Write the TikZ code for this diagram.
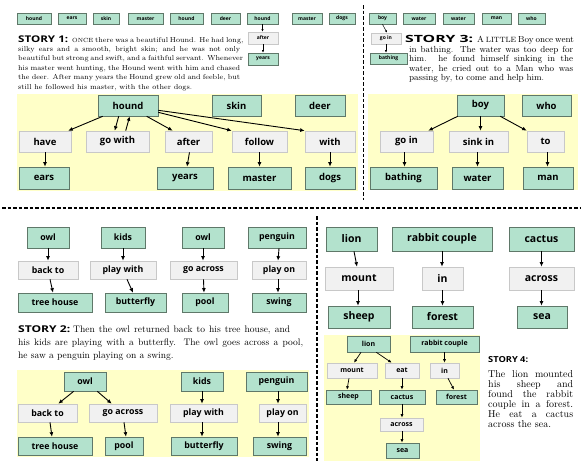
\documentclass[tikz,border=0pt]{standalone}
\usepackage{fontspec}
\usepackage{graphicx}
\newfontfamily\nfont{Open Sans}
\usetikzlibrary{arrows.meta}
\definecolor{gfill}{RGB}{179,226,205}
\definecolor{gdraw}{RGB}{95,120,105}
\definecolor{wfill}{RGB}{241,241,241}
\definecolor{wdraw}{RGB}{200,200,200}
\definecolor{yfill}{RGB}{255,255,200}
\tikzset{
  gbox/.style={draw=gdraw, fill=gfill, line width=0.6pt, inner sep=0pt},
  wbox/.style={draw=wdraw, fill=wfill, line width=0.6pt, inner sep=0pt},
  ft/.style={font=\nfont\bfseries\fontsize{5}{6}\selectfont},
  fa/.style={font=\nfont\bfseries\fontsize{9.5}{11}\selectfont},
  fb/.style={font=\nfont\bfseries\fontsize{8.8}{10}\selectfont},
  fc/.style={font=\nfont\bfseries\fontsize{10.5}{12}\selectfont},
  fd/.style={font=\nfont\bfseries\fontsize{7}{8}\selectfont},
  arr/.style={-{Latex[length=4.5pt,width=4pt]}, line width=0.9pt},
  arrs/.style={-{Latex[length=3.5pt,width=3pt]}, line width=0.7pt},
  arrt/.style={-{Latex[length=2.5pt,width=2.2pt]}, line width=0.5pt},
  sep/.style={dash pattern=on 3.5pt off 2pt, line width=1.3pt},
  tx/.style={anchor=base west, inner sep=0pt},
  ta/.style={tx, font=\fontsize{7.2}{9}\selectfont},
  tb/.style={tx, font=\fontsize{9.5}{11}\selectfont},
  tc/.style={tx, font=\fontsize{8.8}{10}\selectfont},
  td/.style={tx, font=\fontsize{10}{10}\selectfont},
}
\newcommand\bx[7]{\node[#1, minimum width={(#5-#3)*1pt}, minimum height={(#6-#4)*1pt}] (#2) at ({(#3+#5)/2},{(#4+#6)/2}) {#7};}
\newcommand\hd[3]{\resizebox{#1pt}{#2pt}{\nfont\bfseries #3}}
\begin{document}
\begin{tikzpicture}[x=1pt,y=-1pt]
\useasboundingbox (0,0) rectangle (582,461);
% yellow bands
\fill[yfill] (17,94) rectangle (358,191);
\fill[yfill] (368,94) rectangle (578,190);
\fill[yfill] (17,370) rectangle (309,457);
\fill[yfill] (324,335) rectangle (480,461);
% separators
\draw[sep] (363.5,5) -- (363.5,200);
\draw[sep] (2,208) -- (580,208);
\draw[sep] (317,216) -- (317,461);

% ---------- top row ----------
\bx{gbox,ft}{r1}{17}{13}{51}{24}{hound}
\bx{gbox,ft}{r2}{58}{13}{86}{24}{ears}
\bx{gbox,ft}{r3}{93}{13}{119}{24}{skin}
\bx{gbox,ft}{r4}{128}{13}{163}{24}{master}
\bx{gbox,ft}{r5}{170}{13}{203}{24}{hound}
\bx{gbox,ft}{r6}{211}{13}{240}{24}{deer}
\bx{gbox,ft}{r7}{247}{13}{278}{24}{hound}
\bx{gbox,ft}{r8}{292}{13}{322}{24}{master}
\bx{gbox,ft}{r9}{329}{13}{355}{24}{dogs}
\bx{gbox,ft}{r10}{369}{13}{396}{24}{boy}
\bx{gbox,ft}{r11}{403}{13}{435}{24}{water}
\bx{gbox,ft}{r12}{443}{13}{474}{24}{water}
\bx{gbox,ft}{r13}{482}{13}{511}{24}{man}
\bx{gbox,ft}{r14}{518}{13}{545}{24}{who}
\bx{wbox,ft}{tafter}{248}{32}{278}{44}{after}
\bx{gbox,ft}{tyears}{248}{53}{278}{65}{years}
\bx{wbox,ft}{tgoin}{371}{33}{401}{44}{go in}
\bx{gbox,ft}{tbathing}{370}{53}{407}{64}{bathing}
\draw[arrt] (r7.south) -- (r7.south |- tafter.north);
\draw[arrt] (tafter.south) -- (tafter.south |- tyears.north);
\draw[arrt] (r10.south) -- ([xshift=1pt]tgoin.north);
\draw[arrt] (tgoin.south) -- (tgoin.south |- tbathing.north);

% ---------- story 1 text ----------
\node[tx] (s1h) at (18,42) {\hd{50}{6.7}{STORY 1:}};
\node[ta] (s1a) at (72,42) {\makebox[168pt][s]{{\fontsize{6}{7}\selectfont ONCE} there was a beautiful Hound. He had long,}};
\node[ta] (s1b) at (18,51.4) {\makebox[222pt][s]{silky ears and a smooth, bright skin; and he was not only}};
\node[ta] (s1c) at (18,60.8) {\makebox[222pt][s]{beautiful but strong and swift, and a faithful servant. Whenever}};
\node[ta] (s1d) at (18,70.2) {\makebox[222pt][s]{his master went hunting, the Hound went with him and chased}};
\node[ta] (s1e) at (18,79.6) {\makebox[222pt][s]{the deer. After many years the Hound grew old and feeble, but}};
\node[ta] (s1f) at (18,89) {still he followed his master, with the other dogs.};

% ---------- story 1 graph ----------
\bx{gbox,fa}{hound}{98}{95}{158}{116}{hound}
\bx{gbox,fa}{skin}{212}{95}{261}{116}{skin}
\bx{gbox,fa}{deer}{295}{95}{345}{116}{deer}
\bx{wbox,fa}{have}{19}{131}{71}{152}{have}
\bx{wbox,fa}{gowith}{86}{131}{149}{152}{go with}
\bx{wbox,fa}{after}{165}{131}{212}{152}{after}
\bx{wbox,fa}{follow}{232}{131}{287}{152}{follow}
\bx{wbox,fa}{with}{305}{131}{355}{152}{with}
\bx{gbox,fa}{ears}{19}{167}{69}{189}{ears}
\bx{gbox,fa}{years}{157}{167}{213}{189}{years}
\bx{gbox,fa}{master}{228}{167}{291}{189}{master}
\bx{gbox,fa}{dogs}{305}{167}{355}{189}{dogs}
\draw[arr] ([xshift=5pt]hound.south west) -- ([xshift=-3pt]have.north east);
\draw[arr] ([xshift=21pt]hound.south west) -- ([xshift=29pt]gowith.north west);
\draw[arr] ([xshift=40pt]gowith.north west) -- ([xshift=32pt]hound.south west);
\draw[arr] ([xshift=49pt]hound.south west) -- ([xshift=8pt]after.north west);
\draw[arr] ([yshift=4pt]hound.south east) -- (follow.north west);
\draw[arr] ([yshift=6pt]hound.south east) -- (with.north west);
\draw[arr] (have.south) -- (have.south |- ears.north);
\draw[arr] ([xshift=1pt]after.south) -- ([xshift=2pt]years.north);
\draw[arr] (follow.south) -- (follow.south |- master.north);
\draw[arr] (with.south) -- (with.south |- dogs.north);

% ---------- story 3 text ----------
\node[tx] (s3h) at (405,42.5) {\hd{68}{7.2}{STORY 3:}};
\node[tc] (s3a) at (477,42.5) {\makebox[96pt][s]{A {\fontsize{7.6}{8}\selectfont LITTLE} Boy once went}};
\node[tc] (s3b) at (409,52) {\makebox[164pt][s]{in bathing. The water was too deep for}};
\node[tc] (s3c) at (409,61.5) {\makebox[164pt][s]{him. he found himself sinking in the}};
\node[tc] (s3d) at (409,71) {\makebox[164pt][s]{water, he cried out to a Man who was}};
\node[tc] (s3e) at (409,80.5) {passing by, to come and help him.};

% ---------- story 3 graph ----------
\bx{gbox,fa}{boy}{457}{95}{504}{116}{boy}
\bx{gbox,fa}{who}{522}{95}{571}{116}{who}
\bx{wbox,fa}{goin}{380}{131}{433}{152}{go in}
\bx{wbox,fa}{sinkin}{449}{131}{508}{152}{sink in}
\bx{wbox,fa}{to}{527}{131}{564}{152}{to}
\bx{gbox,fa}{bathing}{370}{167}{437}{189}{bathing}
\bx{gbox,fa}{water}{452}{167}{503}{189}{water}
\bx{gbox,fa}{man}{523}{167}{573}{189}{man}
\draw[arr] ([xshift=1pt]boy.south west) -- ([xshift=-5pt]goin.north east);
\draw[arr] (boy.south) -- (boy.south |- sinkin.north);
\draw[arr] ([xshift=-4pt]boy.south east) -- (to.north west);
\draw[arr] ([xshift=-2pt]goin.south) -- ([xshift=-2pt]goin.south |- bathing.north);
\draw[arr] ([xshift=-1pt]sinkin.south) -- ([xshift=-1pt]sinkin.south |- water.north);
\draw[arr] ([xshift=2pt]to.south) -- ([xshift=2pt]to.south |- man.north);

% ---------- story 2 upper graph ----------
\bx{gbox,fb}{owla}{27}{227}{69}{248}{owl}
\bx{gbox,fb}{kidsa}{101}{227}{145}{248}{kids}
\bx{gbox,fb}{owlb}{182}{227}{224}{248}{owl}
\bx{gbox,fb}{penga}{248}{227}{306}{248}{penguin}
\bx{wbox,fb}{backa}{18}{261}{78}{279}{back to}
\bx{wbox,fb}{playwa}{90}{261}{156}{279}{play with}
\bx{wbox,fb}{acrossa}{170}{261}{237}{279}{go across}
\bx{wbox,fb}{playoa}{252}{261}{306}{279}{play on}
\bx{gbox,fb}{treea}{18}{293}{92}{312}{tree house}
\bx{gbox,fb}{buttera}{105}{293}{166}{312}{butterfly}
\bx{gbox,fb}{poola}{182}{293}{228}{312}{pool}
\bx{gbox,fb}{swinga}{252}{293}{306}{312}{swing}
\draw[arr] (owla.south) -- (owla.south |- backa.north);
\draw[arr] (kidsa.south) -- (kidsa.south |- playwa.north);
\draw[arr] (owlb.south) -- (owlb.south |- acrossa.north);
\draw[arr] ([xshift=2pt]penga.south) -- ([xshift=-1pt]playoa.north);
\draw[arr] ([xshift=2pt]backa.south) -- ([xshift=-2pt]treea.north);
\draw[arr] ([xshift=4pt]playwa.south) -- ([xshift=-2.5pt]buttera.north);
\draw[arr] (acrossa.south) -- ([xshift=-1pt]poola.north);
\draw[arr] ([xshift=-1pt]playoa.south) -- ([xshift=-1pt]swinga.north);

% ---------- story 2 text ----------
\node[tx] (s2h) at (18,332) {\hd{52}{6.8}{STORY 2:}};
\node[tb] (s2a) at (73,332) {\makebox[217pt][s]{Then the owl returned back to his tree house, and}};
\node[tb] (s2b) at (18,345) {\makebox[285pt][s]{his kids are playing with a butterfly. The owl goes across a pool,}};
\node[tb] (s2c) at (18,358) {he saw a penguin playing on a swing.};

% ---------- story 2 lower graph ----------
\bx{gbox,fb}{owlc}{64}{372}{106}{391}{owl}
\bx{gbox,fb}{kidsc}{181}{372}{223}{391}{kids}
\bx{gbox,fb}{pengc}{246}{372}{307}{391}{penguin}
\bx{wbox,fb}{backc}{18}{404}{77}{422}{back to}
\bx{wbox,fb}{acrossc}{89}{404}{157}{422}{go across}
\bx{wbox,fb}{playwc}{170}{404}{237}{422}{play with}
\bx{wbox,fb}{playoc}{259}{404}{306}{422}{play on}
\bx{gbox,fb}{treec}{18}{437}{92}{455}{tree house}
\bx{gbox,fb}{poolc}{105}{437}{143}{455}{pool}
\bx{gbox,fb}{butterc}{171}{437}{237}{455}{butterfly}
\bx{gbox,fb}{swingc}{253}{437}{306}{455}{swing}
\draw[arr] ([xshift=10pt]owlc.south west) -- ([xshift=-19pt]backc.north east);
\draw[arr] ([xshift=-9pt]owlc.south east) -- ([xshift=23pt]acrossc.north west);
\draw[arr] ([xshift=2.5pt]backc.south) -- ([xshift=-3pt]treec.north);
\draw[arr] ([xshift=1pt]acrossc.south) -- ([xshift=2pt]poolc.north);
\draw[arr] (kidsc.south) -- (kidsc.south |- playwc.north);
\draw[arr] ([xshift=-1.5pt]playwc.south) -- ([xshift=-1.5pt]playwc.south |- butterc.north);
\draw[arr] ([xshift=1.5pt]pengc.south) -- ([xshift=1.5pt]pengc.south |- playoc.north);
\draw[arr] ([xshift=-4.5pt]playoc.south) -- ([xshift=-4.5pt]playoc.south |- swingc.north);

% ---------- story 4 upper graph ----------
\bx{gbox,fc}{liona}{326}{227}{377}{251}{lion}
\bx{gbox,fc}{rabbita}{392}{227}{492}{251}{rabbit couple}
\bx{gbox,fc}{cactusa}{509}{227}{574}{251}{cactus}
\bx{wbox,fc}{mounta}{325}{267}{393}{290}{mount}
\bx{wbox,fc}{ina}{422}{267}{463}{290}{in}
\bx{wbox,fc}{acrossd}{509}{267}{574}{290}{across}
\bx{gbox,fc}{sheepa}{328}{306}{390}{328}{sheep}
\bx{gbox,fc}{foresta}{412}{306}{473}{328}{forest}
\bx{gbox,fc}{seaa}{517}{306}{567}{328}{sea}
\draw[arr] ([xshift=2.5pt]liona.south) -- ([xshift=-2pt]mounta.north);
\draw[arr] ([xshift=-1pt]mounta.south) -- ([xshift=-1pt]mounta.south |- sheepa.north);
\draw[arr] (rabbita.south) -- (rabbita.south |- ina.north);
\draw[arr] (ina.south) -- (ina.south |- foresta.north);
\draw[arr] (cactusa.south) -- (cactusa.south |- acrossd.north);
\draw[arr] (acrossd.south) -- (acrossd.south |- seaa.north);

% ---------- story 4 lower graph ----------
\bx{gbox,fd}{lionb}{347}{336}{390}{352}{lion}
\bx{gbox,fd}{rabbitb}{410}{336}{479}{352}{rabbit couple}
\bx{wbox,fd}{mountb}{327}{363}{377}{378}{mount}
\bx{wbox,fd}{eatb}{385}{363}{419}{378}{eat}
\bx{wbox,fd}{inb}{430}{363}{459}{378}{in}
\bx{gbox,fd}{sheepb}{326}{390}{371}{404}{sheep}
\bx{gbox,fd}{cactusb}{379}{390}{425}{404}{cactus}
\bx{gbox,fd}{forestb}{436}{390}{477}{404}{forest}
\bx{wbox,fd}{acrossb}{380}{418}{423}{431}{across}
\bx{gbox,fd}{seab}{386}{443}{419}{458}{sea}
\draw[arrs] ([xshift=-7.5pt]lionb.south) -- ([xshift=2pt]mountb.north);
\draw[arrs] ([xshift=-14pt]lionb.south east) -- ([xshift=7pt]eatb.north west);
\draw[arrs] (rabbitb.south) -- (rabbitb.south |- inb.north);
\draw[arrs] ([xshift=3.5pt]inb.south) -- ([xshift=-2.5pt]forestb.north);
\draw[arrs] ([xshift=-3pt]mountb.south) -- ([xshift=-1.5pt]sheepb.north);
\draw[arrs] (eatb.south) -- (eatb.south |- cactusb.north);
\draw[arrs] (cactusb.south) -- (cactusb.south |- acrossb.north);
\draw[arrs] ([xshift=0.5pt]acrossb.south) -- ([xshift=0.5pt]acrossb.south |- seab.north);

% ---------- story 4 text ----------
\node[tx] (s4h) at (488,362) {\hd{40}{6}{STORY 4:}};
\node[td] (s4a) at (488,377) {\makebox[85pt][s]{The lion mounted}};
\node[td] (s4b) at (488,387) {\makebox[85pt][s]{his sheep and}};
\node[td] (s4c) at (488,397) {\makebox[85pt][s]{found the rabbit}};
\node[td] (s4d) at (488,407) {\makebox[85pt][s]{couple in a forest.}};
\node[td] (s4e) at (488,417) {\makebox[85pt][s]{He eat a cactus}};
\node[td] (s4f) at (488,427) {across the sea.};
\end{tikzpicture}
\end{document}
